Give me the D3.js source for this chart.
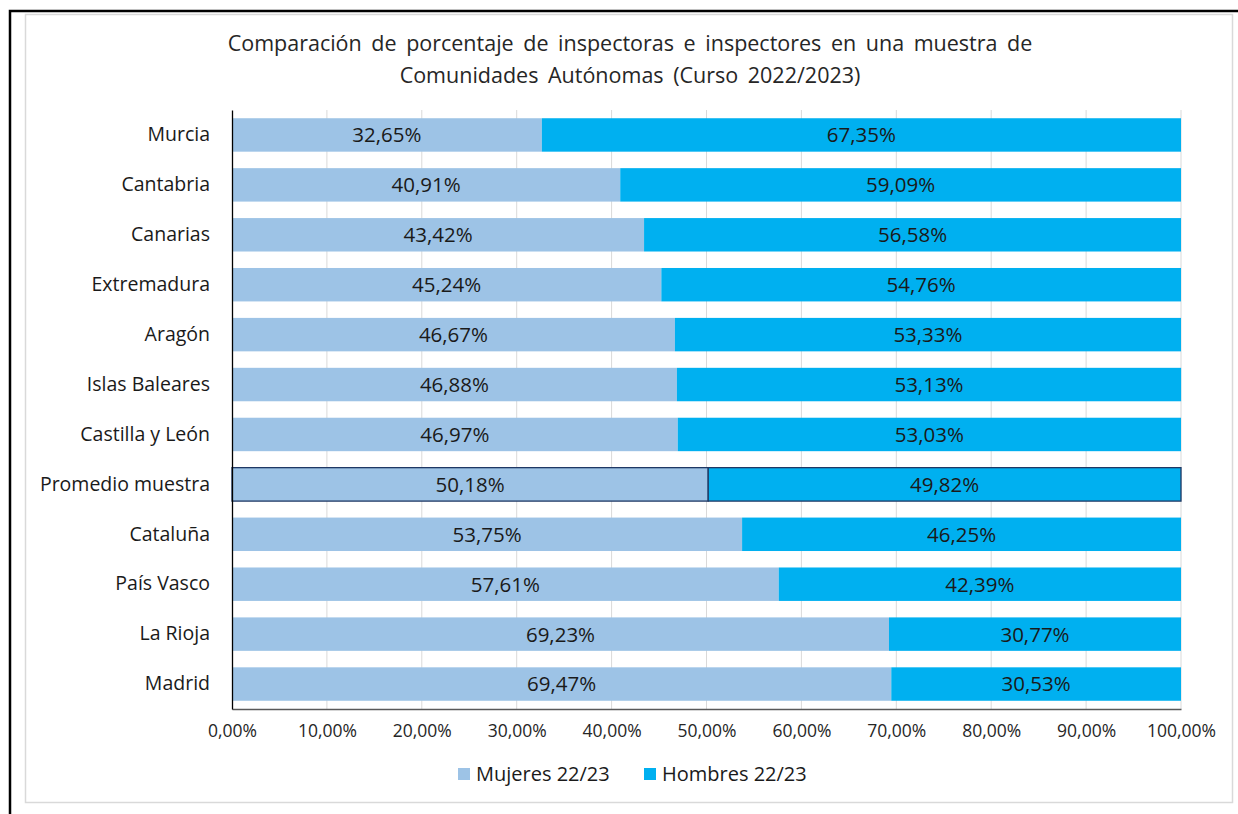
<!DOCTYPE html>
<html>
<head>
<meta charset="utf-8">
<script src="https://cdn.jsdelivr.net/npm/d3@7"></script>
<style>
  html, body { margin: 0; padding: 0; background: #fff; }
  svg { display: block; font-family: "Open Sans", Calibri, sans-serif; }
</style>
</head>
<body>
<svg id="chart" width="1238" height="814"></svg>
<script>
// categories top -> bottom
const regiones = ['Murcia', 'Cantabria', 'Canarias', 'Extremadura', 'Aragón', 'Islas Baleares',
  'Castilla y León', 'Promedio muestra', 'Cataluña', 'País Vasco', 'La Rioja', 'Madrid'];
const mujeres = [32.65, 40.91, 43.42, 45.24, 46.67, 46.88, 46.97, 50.18, 53.75, 57.61, 69.23, 69.47];
const hombres = [67.35, 59.09, 56.58, 54.76, 53.33, 53.13, 53.03, 49.82, 46.25, 42.39, 30.77, 30.53];
const xTicks = [0, 10, 20, 30, 40, 50, 60, 70, 80, 90, 100];
const series = ['Mujeres 22/23', 'Hombres 22/23'];
const titleLines = ['Comparación de porcentaje de inspectoras e inspectores en una muestra de',
  'Comunidades Autónomas (Curso 2022/2023)'];

const colors = ['#9DC3E6', '#00B0F0'];
const fmt = v => v.toFixed(2).replace('.', ',') + '%';

const svg = d3.select('#chart');

// frames
svg.append('rect').attr('x', 25.5).attr('y', 14.5).attr('width', 1207).attr('height', 788)
  .attr('fill', '#fff').attr('stroke', '#D9D9D9').attr('stroke-width', 1.5);
svg.append('path').attr('d', 'M10,814 V11 H1238')
  .attr('fill', 'none').attr('stroke', '#000').attr('stroke-width', 2.5);

// title
svg.append('g').selectAll('text').data(titleLines).join('text')
  .attr('x', 630).attr('y', (d, i) => 51 + i * 32)
  .attr('text-anchor', 'middle').attr('font-size', 21.5).attr('fill', '#262626')
  .attr('word-spacing', 4)
  .text(d => d);

const plotL = 232, plotR = 1181, plotT = 110, plotB = 709;
const x = d3.scaleLinear().domain([0, 100]).range([plotL, plotR]);
const y = d3.scaleBand().domain(regiones).range([plotT, plotB]).paddingInner(0.33).paddingOuter(0.165);

// gridlines
svg.append('g').selectAll('line').data(xTicks.slice(1)).join('line')
  .attr('x1', d => x(d)).attr('x2', d => x(d)).attr('y1', plotT).attr('y2', plotB)
  .attr('stroke', '#D9D9D9').attr('stroke-width', 1);

// bars
const rows = regiones.map((r, i) => ({ r, vals: [mujeres[i], hombres[i]] }));
const gBars = svg.append('g');
rows.forEach(row => {
  let acc = 0;
  const prom = row.r === 'Promedio muestra';
  row.vals.forEach((v, s) => {
    gBars.append('rect')
      .attr('x', x(acc)).attr('y', y(row.r))
      .attr('width', x(acc + v) - x(acc)).attr('height', y.bandwidth())
      .attr('fill', colors[s])
      .attr('stroke', prom ? '#1F3864' : 'none').attr('stroke-width', prom ? 1.3 : 0);
    gBars.append('text')
      .attr('x', (x(acc) + x(acc + v)) / 2).attr('y', y(row.r) + y.bandwidth() / 2)
      .attr('dy', '0.36em').attr('text-anchor', 'middle')
      .attr('font-size', 20.5).attr('fill', '#1a1a1a')
      .text(fmt(v));
    acc += v;
  });
});

// axes
const xAxis = svg.append('g').attr('transform', `translate(0,${plotB})`)
  .call(d3.axisBottom(x).tickValues(xTicks).tickSize(0).tickPadding(16).tickFormat(d => fmt(d)))
  .attr('font-family', null).attr('font-size', null);
xAxis.select('.domain').attr('stroke', '#595959').attr('stroke-width', 1.5);
xAxis.selectAll('text').attr('font-size', 17.5).attr('fill', '#262626');

const yAxis = svg.append('g').attr('transform', `translate(${plotL},0)`)
  .call(d3.axisLeft(y).tickSize(0).tickPadding(22))
  .attr('font-family', null).attr('font-size', null);
yAxis.select('.domain').attr('stroke', '#000').attr('stroke-width', 1.3);
yAxis.selectAll('text').attr('font-size', 19.5).attr('fill', '#1a1a1a');

// legend
const legX = [458, 644];
const leg = svg.append('g').selectAll('g').data(series).join('g')
  .attr('transform', (d, i) => `translate(${legX[i]},774)`);
leg.append('rect').attr('x', 0).attr('y', -6).attr('width', 12).attr('height', 12)
  .attr('fill', (d, i) => colors[i]);
leg.append('text').attr('x', 18).attr('dy', '0.36em').attr('font-size', 20).attr('fill', '#1a1a1a')
  .text(d => d);
</script>
</body>
</html>
